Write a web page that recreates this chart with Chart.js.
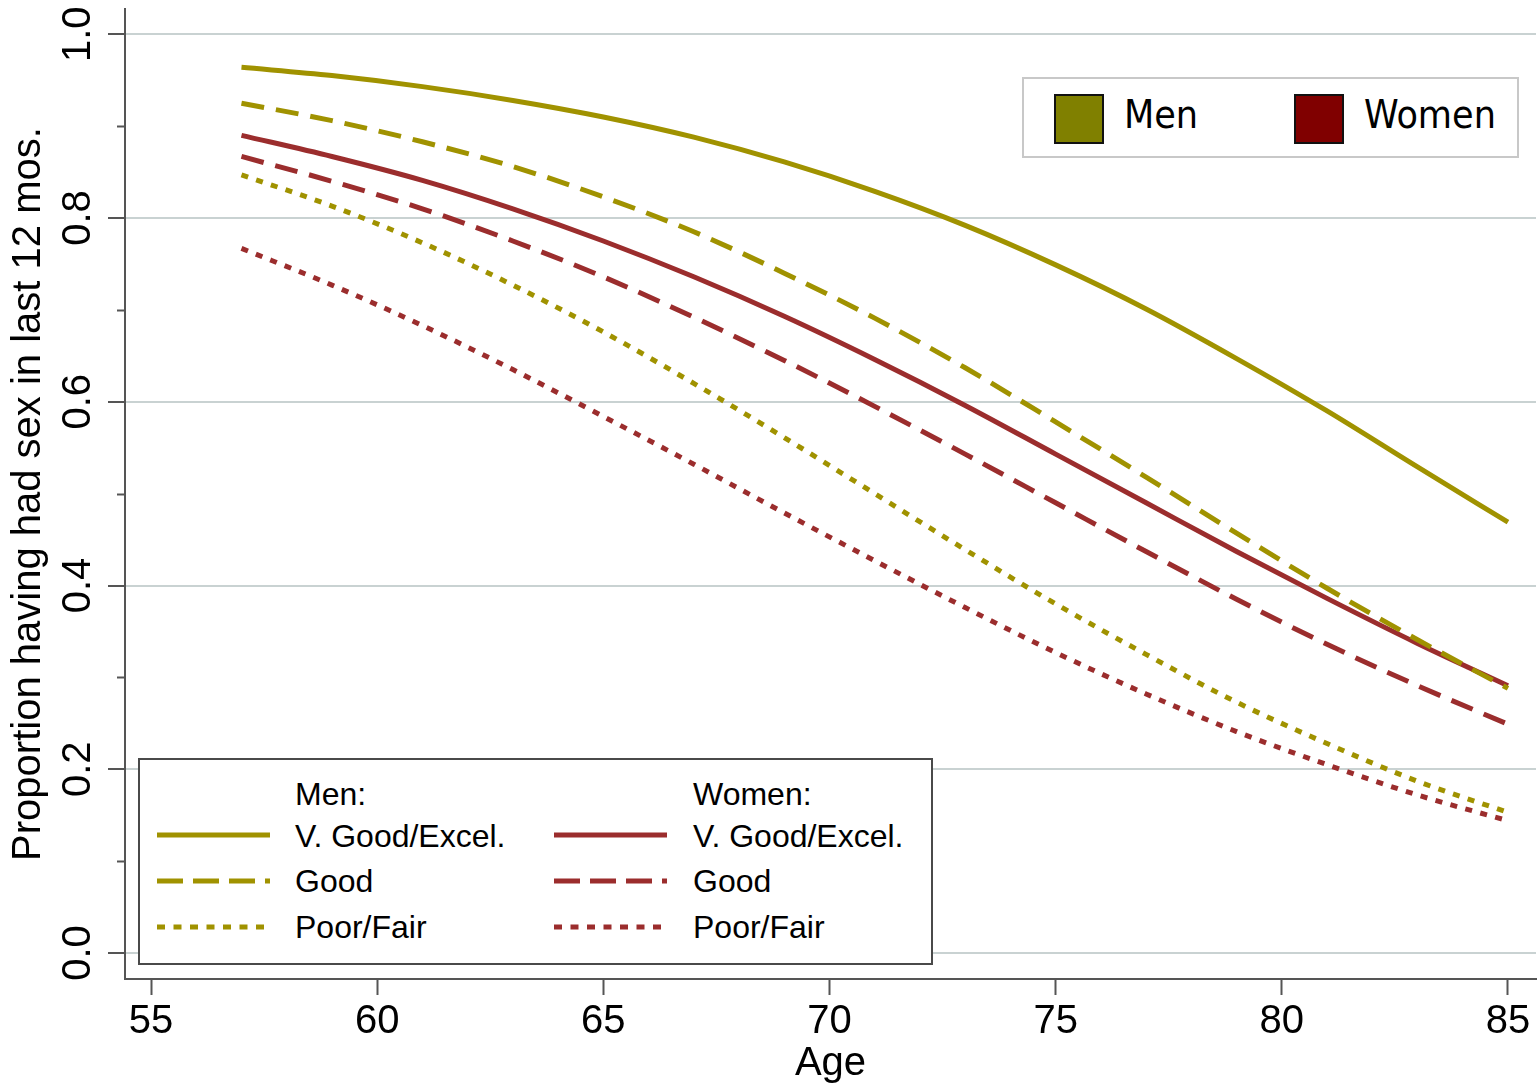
<!DOCTYPE html>
<html lang="en">
<head>
<meta charset="UTF-8">
<title>Proportion having had sex in last 12 mos. by age</title>
<script src="https://cdn.jsdelivr.net/npm/chart.js"></script>
<style>
    html, body {
        margin: 0;
        padding: 0;
        background: #fff;
    }
    #wrap {
        position: relative;
        width: 1539px;
        height: 1085px;
        overflow: hidden;
    }
    #chart {
        position: absolute;
        left: 0;
        top: 0;
    }
    .box {
        position: absolute;
        box-sizing: border-box;
        background: #fff;
    }
    .swatch {
        position: absolute;
        width: 50px;
        height: 50px;
        box-sizing: border-box;
        border: 2px solid #111;
    }
    .big {
        position: absolute;
        font-family: 'DejaVu Sans Condensed', 'DejaVu Sans', sans-serif;
        font-stretch: condensed;
        font-size: 39px;
        line-height: 40px;
        color: #000;
        white-space: nowrap;
    }
    .lbl {
        position: absolute;
        font-family: 'Liberation Sans', Arial, sans-serif;
        font-size: 32px;
        line-height: 32px;
        color: #000;
        white-space: nowrap;
    }
    #keys {
        position: absolute;
        left: 0;
        top: 0;
        pointer-events: none;
    }
</style>
</head>
<body>
<div id="wrap">
    <canvas id="chart" width="1539" height="1085"></canvas>

    <!-- legend top right -->
    <div class="box" style="left:1022px;top:77px;width:497px;height:81px;border:2px solid #c8c8c8;"></div>
    <div class="swatch" style="left:1054px;top:94px;background:#808000;"></div>
    <div class="big" style="left:1124px;top:95px;">Men</div>
    <div class="swatch" style="left:1294px;top:94px;background:#800000;"></div>
    <div class="big" style="left:1364px;top:95px;">Women</div>

    <!-- legend bottom left -->
    <div class="box" style="left:138px;top:758px;width:795px;height:207px;border:2px solid #4a4a4a;"></div>
    <div class="lbl" style="left:295px;top:778px;">Men:</div>
    <div class="lbl" style="left:295px;top:820px;">V. Good/Excel.</div>
    <div class="lbl" style="left:295px;top:865px;">Good</div>
    <div class="lbl" style="left:295px;top:911px;">Poor/Fair</div>
    <div class="lbl" style="left:693px;top:778px;">Women:</div>
    <div class="lbl" style="left:693px;top:820px;">V. Good/Excel.</div>
    <div class="lbl" style="left:693px;top:865px;">Good</div>
    <div class="lbl" style="left:693px;top:911px;">Poor/Fair</div>
    <svg id="keys" width="1539" height="1085"></svg>
</div>
<script>
    // values
    const ages = [57, 59, 61, 63, 65, 67, 69, 71, 73, 75, 77, 79, 81, 83, 85];
    const menVeryGood   = [0.964, 0.955, 0.943, 0.928, 0.910, 0.888, 0.861, 0.829, 0.792, 0.749, 0.701, 0.647, 0.590, 0.529, 0.469];
    const menGood       = [0.925, 0.906, 0.883, 0.856, 0.823, 0.785, 0.740, 0.691, 0.637, 0.578, 0.518, 0.457, 0.397, 0.341, 0.288];
    const menPoor       = [0.847, 0.813, 0.773, 0.727, 0.676, 0.620, 0.561, 0.500, 0.439, 0.380, 0.325, 0.273, 0.228, 0.187, 0.153];
    const womenVeryGood = [0.890, 0.867, 0.841, 0.810, 0.775, 0.736, 0.693, 0.646, 0.596, 0.543, 0.490, 0.437, 0.386, 0.337, 0.291];
    const womenGood     = [0.867, 0.840, 0.810, 0.775, 0.736, 0.692, 0.645, 0.595, 0.543, 0.490, 0.437, 0.385, 0.336, 0.291, 0.249];
    const womenPoor     = [0.767, 0.727, 0.683, 0.635, 0.584, 0.532, 0.479, 0.427, 0.376, 0.327, 0.282, 0.241, 0.205, 0.172, 0.144];

    const xTicks = [55, 60, 65, 70, 75, 80, 85];
    const yTicks = [0, 0.2, 0.4, 0.6, 0.8, 1.0];
    const yMinorTicks = [0.1, 0.3, 0.5, 0.7, 0.9];

    const OLIVE = '#a09200';
    const MAROON = '#9b2d2d';
    const AXIS = '#555';
    const DASH = [23, 12];
    const DOT = [7, 8.5];
    const FONT = "'Liberation Sans', Arial, sans-serif";

    function pts(vals) {
        return ages.map((a, i) => ({ x: a, y: vals[i] }));
    }

    function series(label, vals, color, dash) {
        return {
            label: label,
            data: pts(vals),
            borderColor: color,
            borderWidth: 5,
            borderDash: dash,
            borderCapStyle: 'butt',
            pointRadius: 0,
            fill: false,
            cubicInterpolationMode: 'monotone'
        };
    }

    // rotated y labels + short minor ticks
    const yLabels = {
        id: 'yLabels',
        afterDraw(chart) {
            const y = chart.scales.y;
            const ctx = chart.ctx;
            ctx.save();
            ctx.strokeStyle = AXIS;
            ctx.lineWidth = 2;
            yMinorTicks.forEach(v => {
                const p = Math.round(y.getPixelForValue(v)) + 0.5;
                ctx.beginPath();
                ctx.moveTo(y.right - 8, p);
                ctx.lineTo(y.right, p);
                ctx.stroke();
            });
            ctx.fillStyle = '#000';
            ctx.font = '40px ' + FONT;
            ctx.textAlign = 'center';
            ctx.textBaseline = 'alphabetic';
            y.ticks.forEach(t => {
                const p = y.getPixelForValue(t.value);
                ctx.save();
                ctx.translate(y.right - 35, p);
                ctx.rotate(-Math.PI / 2);
                ctx.fillText(t.value.toFixed(1), 0, 0);
                ctx.restore();
            });
            ctx.restore();
        }
    };

    new Chart(document.getElementById('chart'), {
        type: 'line',
        data: {
            datasets: [
                series('Men: V. Good/Excel.', menVeryGood, OLIVE, []),
                series('Men: Good', menGood, OLIVE, DASH),
                series('Men: Poor/Fair', menPoor, OLIVE, DOT),
                series('Women: V. Good/Excel.', womenVeryGood, MAROON, []),
                series('Women: Good', womenGood, MAROON, DASH),
                series('Women: Poor/Fair', womenPoor, MAROON, DOT)
            ]
        },
        plugins: [yLabels],
        options: {
            responsive: false,
            animation: false,
            devicePixelRatio: 1,
            layout: { padding: { top: 9, right: 3, left: 0, bottom: 0 } },
            plugins: {
                legend: { display: false },
                tooltip: { enabled: false }
            },
            scales: {
                x: {
                    type: 'linear',
                    min: 54.425,
                    max: 85.62,
                    afterBuildTicks: s => { s.ticks = xTicks.map(v => ({ value: v })); },
                    afterFit: s => { s.height = 106; },
                    grid: {
                        drawOnChartArea: false,
                        tickLength: 16,
                        tickWidth: 2,
                        tickColor: AXIS
                    },
                    border: { color: AXIS, width: 2 },
                    ticks: {
                        color: '#000',
                        font: { family: FONT, size: 40 },
                        padding: 3,
                        maxRotation: 0,
                        autoSkip: false
                    },
                    title: {
                        display: true,
                        text: 'Age',
                        color: '#000',
                        font: { family: FONT, size: 40, lineHeight: 1 },
                        padding: { top: 0, bottom: 1 }
                    }
                },
                y: {
                    min: -0.0283,
                    max: 1.0275,
                    afterBuildTicks: s => { s.ticks = yTicks.map(v => ({ value: v })); },
                    afterFit: s => { s.width = 125; },
                    grid: {
                        color: '#c9d2d2',
                        lineWidth: 2,
                        tickLength: 17,
                        tickWidth: 2,
                        tickColor: AXIS
                    },
                    border: { color: AXIS, width: 2 },
                    ticks: { display: false },
                    title: {
                        display: true,
                        text: 'Proportion having had sex in last 12 mos.',
                        color: '#000',
                        font: { family: FONT, size: 40, lineHeight: 1 },
                        padding: { top: 9 }
                    }
                }
            }
        }
    });

    // line keys of the lower legend
    const keys = [
        [157, 835, OLIVE, []], [157, 881, OLIVE, [26, 10]], [157, 927, OLIVE, [8, 8.5]],
        [554, 835, MAROON, []], [554, 881, MAROON, [26, 10]], [554, 927, MAROON, [8, 8.5]]
    ];
    const svg = document.getElementById('keys');
    keys.forEach(k => {
        const ln = document.createElementNS('http://www.w3.org/2000/svg', 'line');
        ln.setAttribute('x1', k[0]);
        ln.setAttribute('x2', k[0] + 113);
        ln.setAttribute('y1', k[1]);
        ln.setAttribute('y2', k[1]);
        ln.setAttribute('stroke', k[2]);
        ln.setAttribute('stroke-width', 5);
        if (k[3].length) ln.setAttribute('stroke-dasharray', k[3].join(' '));
        svg.appendChild(ln);
    });
</script>
</body>
</html>
